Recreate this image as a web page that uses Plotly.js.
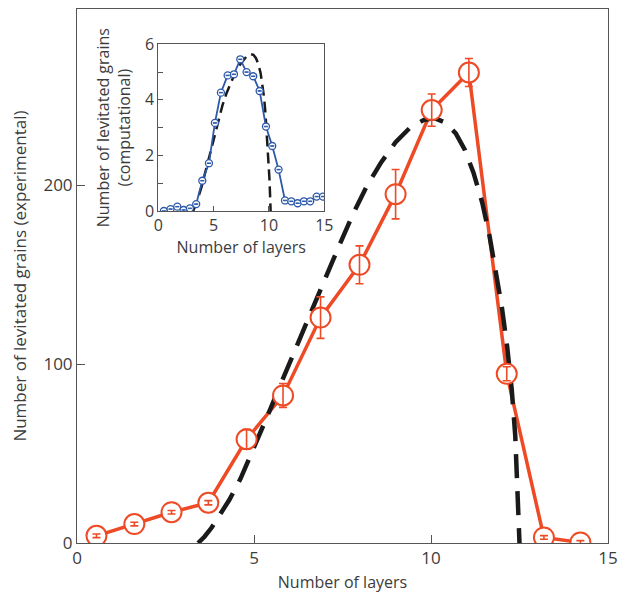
<!DOCTYPE html>
<html>
<head>
<meta charset="utf-8">
<script src="https://cdn.plot.ly/plotly-3.0.1.min.js"></script>
<style>html,body{margin:0;padding:0;background:#fff;}#chart{width:618px;height:593px;}</style>
</head>
<body>
<div id="chart"></div>
<script>
// Main plot: experimental data
const expLayers = [0.55, 1.62, 2.67, 3.71, 4.79, 5.82, 6.88, 7.98, 9.0, 10.02, 11.07, 12.14, 13.19, 14.22];
const expGrains = [4, 10.6, 17.2, 22.5, 58, 82.5, 126, 155.5, 195, 242, 263, 94.6, 3.1, 0.3];
const expErr    = [1.0, 1.0, 1.0, 1.2, 5.5, 6.7, 11.6, 10.6, 13.8, 9, 7.8, 3.9, 1.0, 1.0];

// Main plot: dashed model curve
const modelX = [3.42, 3.6, 3.8, 4.0, 4.3, 4.62, 5.0, 5.4, 5.8, 6.2, 6.6, 7.0, 7.4, 7.8, 8.2, 8.6, 9.0, 9.4, 9.8, 10.1, 10.4, 10.7, 10.95, 11.2, 11.45, 11.65, 11.85, 12.0, 12.15, 12.28, 12.38, 12.45, 12.5];
const modelY = [0, 3.5, 8.5, 14.5, 24, 36, 53, 72, 91, 110, 129, 147, 166, 184, 200, 213, 224, 232, 236.5, 237.5, 235, 229, 220, 207, 190, 172, 151, 132, 110, 86, 60, 32, 0];

// Inset: computational data
const compLayers = [0.51, 1.11, 1.72, 2.29, 2.86, 3.43, 3.98, 4.58, 5.12, 5.66, 6.27, 6.84, 7.41, 7.98, 8.58, 9.16, 9.73, 10.30, 10.87, 11.45, 12.02, 12.59, 13.16, 13.73, 14.31, 14.88];
const compGrains = [0, 0.07, 0.156, 0.036, 0.096, 0.25, 1.09, 1.72, 3.17, 4.26, 4.88, 4.92, 5.46, 5.0, 4.85, 4.32, 3.04, 2.34, 1.49, 0.38, 0.35, 0.28, 0.35, 0.35, 0.52, 0.52];

// Inset: dashed model curve
const insetModelX = [3.16, 3.5, 3.92, 4.3, 4.67, 5.05, 5.42, 5.8, 6.17, 6.55, 6.93, 7.3, 7.68, 8.0, 8.34, 8.6, 8.83, 9.05, 9.25, 9.4, 9.55, 9.68, 9.79, 9.89, 9.97, 10.04, 10.1, 10.15];
const insetModelY = [0, 0.35, 0.88, 1.48, 2.08, 2.7, 3.28, 3.8, 4.24, 4.63, 4.96, 5.22, 5.44, 5.58, 5.65, 5.62, 5.5, 5.28, 4.96, 4.6, 4.12, 3.55, 2.92, 2.3, 1.72, 1.2, 0.6, 0];

const RED = '#ee4a26';
const BLUE = '#2b58a8';
const TXT = '#3c3c3c';
const AX = '#555555';
const FONT = 'Open Sans, DejaVu Sans, sans-serif';

const traces = [
  { x: expLayers, y: expGrains, mode: 'lines', line: {color: RED, width: 3.5}, xaxis: 'x', yaxis: 'y', hoverinfo: 'skip' },
  { x: modelX, y: modelY, mode: 'lines', line: {color: '#1a1a1a', width: 4.5, dash: '24px,13px'}, xaxis: 'x', yaxis: 'y' },
  { x: expLayers, y: expGrains, mode: 'markers', marker: {symbol: 'circle', size: 20, color: '#ffffff', line: {color: RED, width: 2}}, xaxis: 'x', yaxis: 'y' },
  { x: expLayers, y: expGrains, mode: 'markers', marker: {size: 1, color: 'rgba(0,0,0,0)'},
    error_y: {type: 'data', array: expErr, visible: true, color: RED, thickness: 1.6, width: 4}, xaxis: 'x', yaxis: 'y' },
  { x: insetModelX, y: insetModelY, mode: 'lines', line: {color: '#1a1a1a', width: 2.5, dash: '11px,6px'}, xaxis: 'x2', yaxis: 'y2' },
  { x: compLayers, y: compGrains, mode: 'lines+markers', line: {color: BLUE, width: 1.8},
    marker: {symbol: 'circle', size: 7, color: '#ffffff', line: {color: BLUE, width: 1.3}}, xaxis: 'x2', yaxis: 'y2' },
  { x: compLayers, y: compGrains, mode: 'markers', marker: {size: 1, color: 'rgba(0,0,0,0)'},
    error_y: {type: 'constant', value: 0.01, visible: true, color: BLUE, thickness: 1, width: 2}, xaxis: 'x2', yaxis: 'y2' }
];

const layout = {
  width: 618, height: 593,
  margin: {l: 77, r: 10, t: 9, b: 50},
  paper_bgcolor: '#ffffff', plot_bgcolor: '#ffffff',
  showlegend: false,
  font: {family: FONT, color: TXT, size: 16},
  xaxis: {
    domain: [0, 1], range: [0, 15], tickvals: [0, 5, 10, 15], ticks: 'inside', ticklen: 8, tickcolor: AX,
    showline: true, linecolor: AX, linewidth: 1, mirror: true, showgrid: false, zeroline: false,
    tickfont: {size: 17, color: TXT, family: FONT},
    title: {text: 'Number of layers', font: {size: 16, color: TXT, family: FONT}, standoff: 8}
  },
  yaxis: {
    domain: [0, 1], range: [0, 298.5], tickvals: [0, 100, 200], ticks: 'inside', ticklen: 8, tickcolor: AX,
    showline: true, linecolor: AX, linewidth: 1, mirror: true, showgrid: false, zeroline: false,
    tickfont: {size: 17, color: TXT, family: FONT},
    title: {text: 'Number of levitated grains (experimental)', font: {size: 17, color: TXT, family: FONT}, standoff: 12}
  },
  xaxis2: {
    domain: [0.153, 0.4657], anchor: 'y2', range: [0, 15], tickvals: [0, 5, 10, 15], ticks: 'inside', ticklen: 5, tickcolor: AX,
    showline: true, linecolor: AX, linewidth: 1, mirror: true, showgrid: false, zeroline: false,
    tickfont: {size: 16, color: TXT, family: FONT},
    title: {text: 'Number of layers', font: {size: 16, color: TXT, family: FONT}, standoff: 6}
  },
  yaxis2: {
    domain: [0.6217, 0.9339], anchor: 'x2', range: [0, 6], tickvals: [0, 2, 4, 6], ticks: 'inside', ticklen: 5, tickcolor: AX,
    minor: {tickvals: [1, 3, 5], ticks: 'inside', ticklen: 5, tickcolor: AX, showgrid: false},
    showline: true, linecolor: AX, linewidth: 1, mirror: true, showgrid: false, zeroline: false,
    tickfont: {size: 16, color: TXT, family: FONT},
    title: {text: 'Number of levitated grains<br>(computational)', font: {size: 16, color: TXT, family: FONT}, standoff: 10}
  }
};

Plotly.newPlot('chart', traces, layout, {staticPlot: true, displayModeBar: false});
</script>
</body>
</html>
